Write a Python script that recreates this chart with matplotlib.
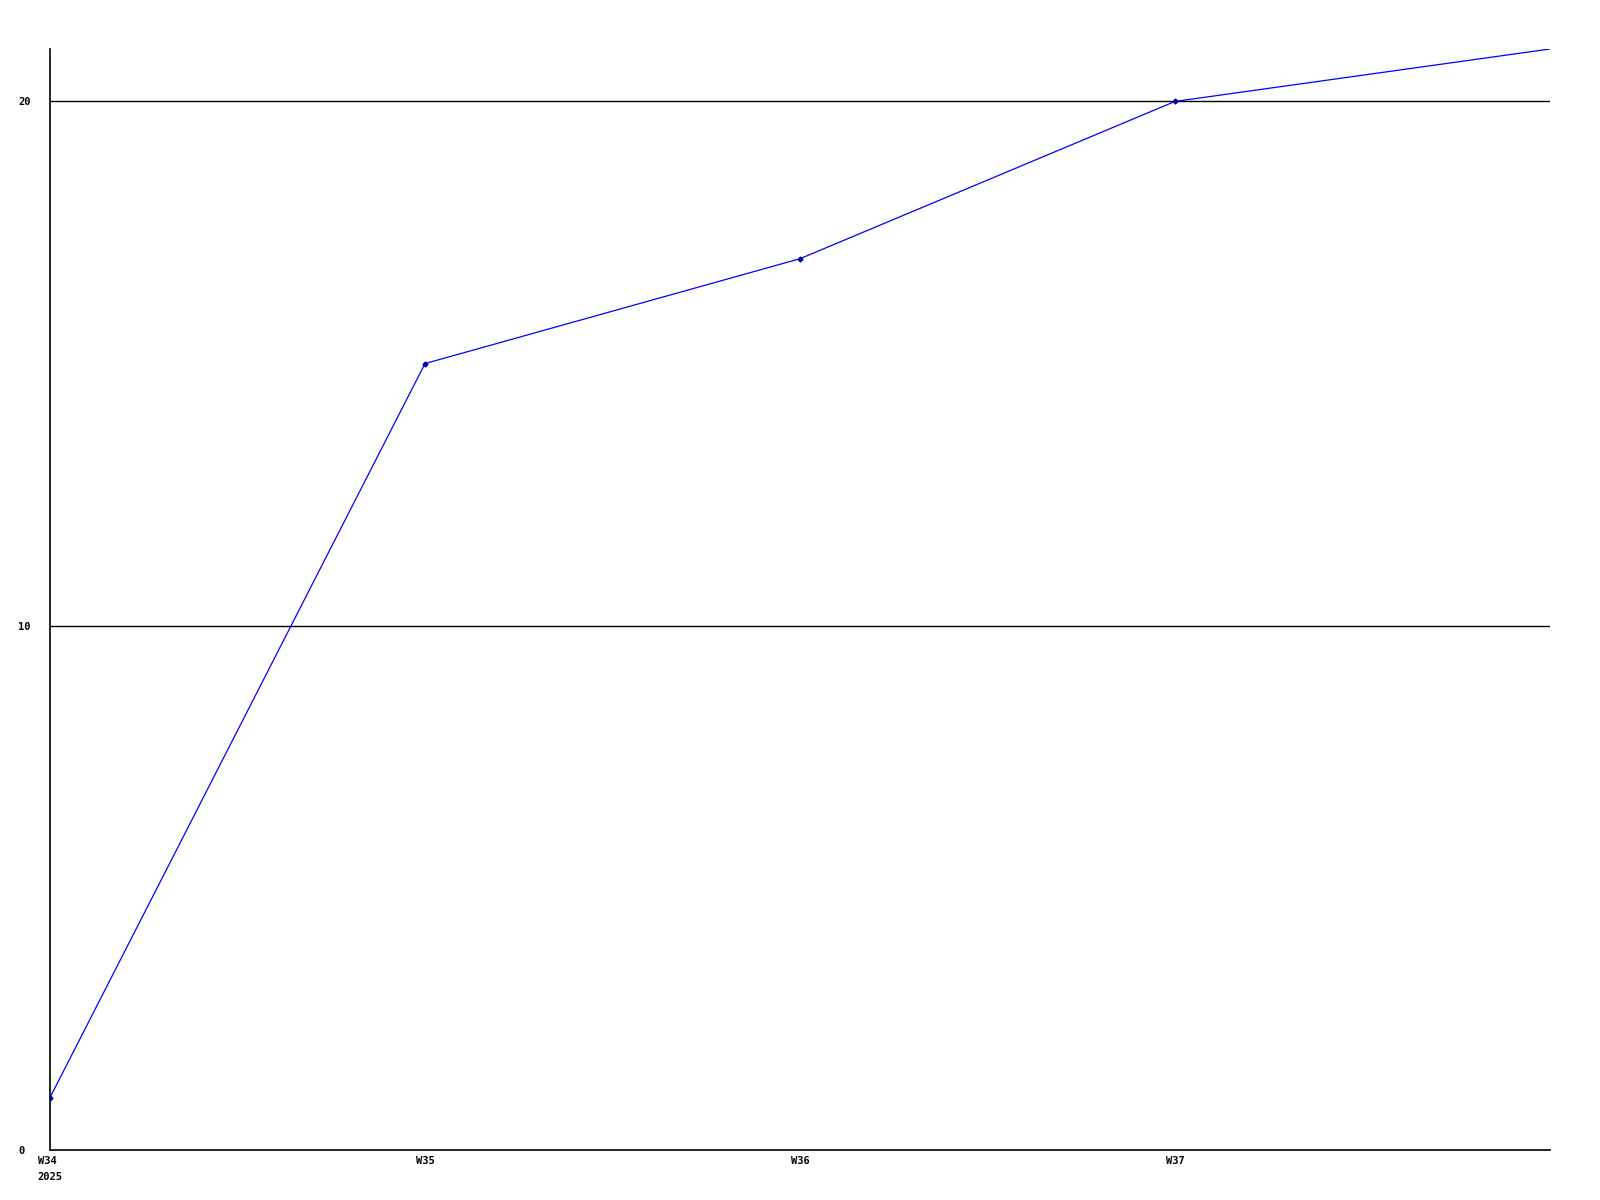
import numpy as np
import matplotlib
matplotlib.use('Agg')
import matplotlib.pyplot as plt

weeks = ['W34\n2025', 'W35', 'W36', 'W37', 'W38']
values = [1, 15, 17, 20, 21]
y_ticks = [0, 10, 20]

plt.rcParams['font.family'] = ['DejaVu Sans Mono']
plt.rcParams['font.weight'] = 'bold'
plt.rcParams['font.size'] = 7.5

fig = plt.figure(figsize=(16, 12), dpi=100)
ax = fig.add_axes([50 / 1600, 50 / 1200, 1500 / 1600, 1101 / 1200])

x = np.arange(len(weeks))
ax.plot(x, values, color='#0000ff', linewidth=0.9, marker='D', markersize=2.5,
        markerfacecolor='#0000aa', markeredgecolor='#0000aa',
        markevery=list(range(len(weeks) - 1)), zorder=3)

ax.set_xlim(0, len(weeks) - 1)
ax.set_ylim(0, 21)

ax.set_xticks(x[:-1])
ax.set_xticklabels(weeks[:-1], linespacing=1.75, multialignment='left')
ax.set_yticks(y_ticks)
ax.set_yticklabels([str(v) for v in y_ticks])
for lbl in ax.get_yticklabels():
    lbl.set_horizontalalignment('left')

ax.tick_params(axis='both', length=0, colors='black')
ax.tick_params(axis='y', pad=23)
ax.tick_params(axis='x', pad=4)

for v in y_ticks[1:]:
    ax.axhline(v, color='black', linewidth=1.0, zorder=1)

for side in ['top', 'right']:
    ax.spines[side].set_visible(False)
for side in ['left', 'bottom']:
    ax.spines[side].set_linewidth(1.2)
    ax.spines[side].set_color('black')

fig.savefig('out.png', dpi=100, facecolor='white')
